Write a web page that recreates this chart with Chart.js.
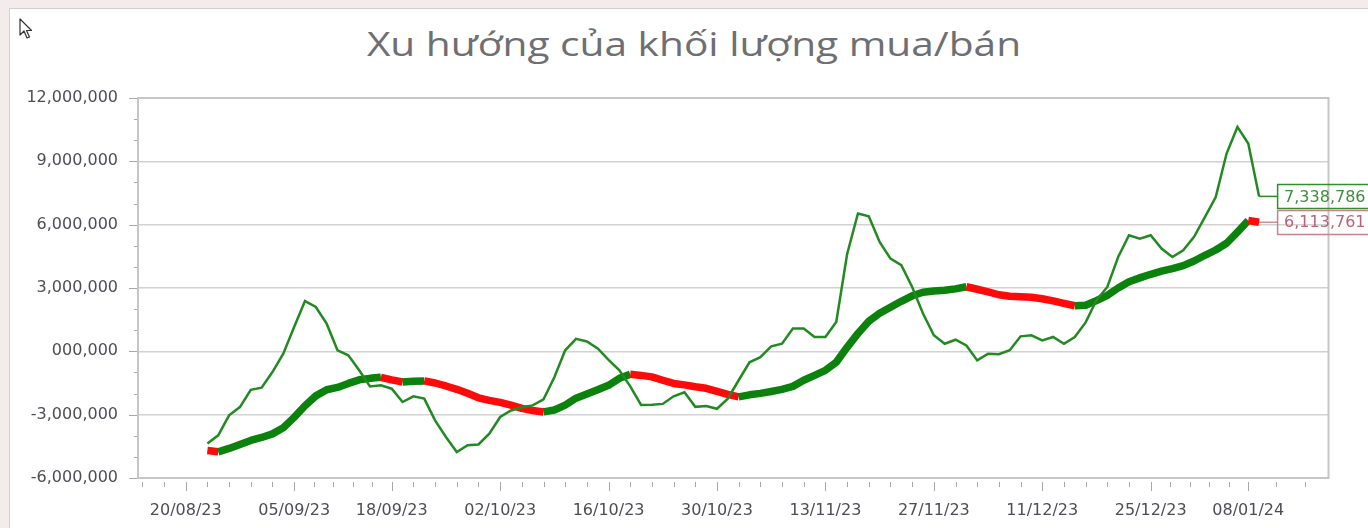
<!DOCTYPE html>
<html>
<head>
<meta charset="utf-8">
<script src="https://cdn.jsdelivr.net/npm/chart.js@4.4.1/dist/chart.umd.min.js"></script>
<style>
    html, body { margin: 0; padding: 0; }
    body { width: 1368px; height: 528px; background: #f3ecea; position: relative; overflow: hidden; }
    #panel { position: absolute; left: 9px; top: 8px; right: 0; bottom: 0; background: #fff;
             border-left: 1px solid #cfcfcf; border-top: 1px solid #cfcfcf; }
    #wrap { position: absolute; left: 0; top: 0; width: 1368px; height: 528px; }
    #title { position: absolute; left: 694px; top: 22px; line-height: 40px; white-space: nowrap;
             font: 32px "Open Sans", "Noto Sans", sans-serif; color: #6e6f72;
             transform: translateX(-50%) scaleX(1.27); }
    #cursor { position: absolute; left: 19px; top: 18px; }
</style>
</head>
<body>
<div id="panel"></div>
<svg id="cursor" width="14" height="22" viewBox="0 0 14 22">
    <path d="M1 1 L1 17 L5 13 L8 20 L10.5 19 L7.5 12.5 L12.5 12.5 Z" fill="#fff" stroke="#333" stroke-width="1.2" stroke-linejoin="round"/>
</svg>
<div id="title"></div>
<div id="wrap"><canvas id="trendChart"></canvas></div>
<script>
const titleText = 'Xu hướng của khối lượng mua/bán';

// one value per trading session, 22/08/23 -> 09/01/24, in millions
const volumeM = [
    -4.37, -3.98, -3.03, -2.64, -1.82, -1.72, -0.98, -0.11, 1.15, 2.38,
    2.10, 1.31, 0.05, -0.19, -0.90, -1.66, -1.61, -1.77, -2.40, -2.13,
    -2.24, -3.27, -4.06, -4.77, -4.45, -4.41, -3.90, -3.11, -2.80, -2.65,
    -2.56, -2.27, -1.23, 0.05, 0.59, 0.47, 0.14, -0.40, -0.90, -1.66,
    -2.54, -2.53, -2.49, -2.13, -1.94, -2.63, -2.59, -2.72, -2.24, -1.37,
    -0.52, -0.28, 0.24, 0.36, 1.08, 1.08, 0.68, 0.68, 1.39, 4.60,
    6.53, 6.40, 5.18, 4.39, 4.08, 3.05, 1.79, 0.76, 0.36, 0.55,
    0.28, -0.43, -0.11, -0.14, 0.05, 0.71, 0.76, 0.52, 0.68, 0.36,
    0.68, 1.37, 2.42, 3.05, 4.47, 5.50, 5.34, 5.50, 4.87, 4.47,
    4.79, 5.42, 6.36, 7.31, 9.37, 10.63, 9.84, 7.338786
];

const trendM = [
    -4.70, -4.76, -4.60, -4.41, -4.22, -4.08, -3.91, -3.62, -3.13, -2.58,
    -2.11, -1.82, -1.71, -1.52, -1.35, -1.28, -1.23, -1.35, -1.45, -1.42,
    -1.40, -1.50, -1.64, -1.80, -1.99, -2.20, -2.32, -2.42, -2.55, -2.70,
    -2.80, -2.87, -2.78, -2.55, -2.22, -2.02, -1.82, -1.61, -1.28, -1.09,
    -1.14, -1.21, -1.37, -1.52, -1.59, -1.68, -1.75, -1.90, -2.04, -2.16,
    -2.06, -1.99, -1.90, -1.80, -1.66, -1.37, -1.14, -0.90, -0.52, 0.19,
    0.85, 1.42, 1.80, 2.09, 2.37, 2.63, 2.80, 2.86, 2.89, 2.96,
    3.06, 2.94, 2.82, 2.68, 2.61, 2.58, 2.56, 2.49, 2.39, 2.27,
    2.16, 2.18, 2.40, 2.65, 3.00, 3.30, 3.48, 3.65, 3.80, 3.92,
    4.06, 4.28, 4.55, 4.80, 5.12, 5.65, 6.20, 6.113761
];

// x ticks, in session index
const xTickPos = [-2, 8, 17, 27, 37, 47, 57, 67, 77, 87, 96];
const xTickLabels = ['20/08/23', '05/09/23', '18/09/23', '02/10/23', '16/10/23', '30/10/23',
                     '13/11/23', '27/11/23', '11/12/23', '25/12/23', '08/01/24'];
const xMinorOutside = [-6, -4, 98.6, 101.2];

const yTickVals = [-6e6, -3e6, 0, 3e6, 6e6, 9e6, 12e6];
const yTickLabels = ['-6,000,000', '-3,000,000', '000,000', '3,000,000', '6,000,000', '9,000,000', '12,000,000'];

const GREEN = '#0b820b';
const RED = '#ff0a0a';
const LABEL_FONT = '"DejaVu Sans", Verdana, sans-serif';

document.getElementById('title').textContent = titleText;

function line(ctx, x1, y1, x2, y2) {
    ctx.beginPath();
    ctx.moveTo(x1, y1);
    ctx.lineTo(x2, y2);
    ctx.stroke();
}

// frame + major/minor tick marks
const frame = {
    id: 'frame',
    beforeDatasetsDraw(chart) {
        const { ctx, chartArea: a, scales: { x, y } } = chart;
        ctx.save();
        ctx.strokeStyle = '#c6c6c6';
        ctx.lineWidth = 2;
        ctx.strokeRect(a.left, a.top, a.right - a.left, a.bottom - a.top);

        ctx.strokeStyle = '#a8a8a8';
        ctx.lineWidth = 1;
        for (let v = -6e6; v <= 12e6; v += 1e6) {
            const py = Math.round(y.getPixelForValue(v)) + 0.5;
            const len = v % 3e6 === 0 ? 9 : 4;
            line(ctx, a.left - len, py, a.left - 1, py);
        }

        const minors = xMinorOutside.slice();
        for (let i = 0; i < xTickPos.length - 1; i++) {
            const step = (xTickPos[i + 1] - xTickPos[i]) / 5;
            for (let k = 1; k < 5; k++) minors.push(xTickPos[i] + k * step);
        }
        minors.forEach(v => {
            const px = Math.round(x.getPixelForValue(v)) + 0.5;
            line(ctx, px, a.bottom + 4, px, a.bottom + 9);
        });
        xTickPos.forEach(v => {
            const px = Math.round(x.getPixelForValue(v)) + 0.5;
            line(ctx, px, a.bottom + 4, px, a.bottom + 13);
        });
        ctx.restore();
    }
};

// last value tags at the right
const endTags = {
    id: 'endTags',
    afterDatasetsDraw(chart) {
        const ctx = chart.ctx;
        ctx.save();
        ctx.font = '16px ' + LABEL_FONT;
        ctx.textBaseline = 'middle';
        ctx.textAlign = 'left';
        chart.data.datasets.forEach((ds, i) => {
            const pts = chart.getDatasetMeta(i).data;
            const p = pts[pts.length - 1];
            const last = ds.data[ds.data.length - 1].y;
            const bx = p.x + 18, bh = 24;
            ctx.strokeStyle = ds.tagLine;
            ctx.lineWidth = 1.5;
            line(ctx, p.x, p.y, bx, p.y);
            ctx.strokeStyle = ds.tagBorder;
            ctx.strokeRect(bx + 0.5, Math.round(p.y - bh / 2) + 0.5, 100, bh);
            ctx.fillStyle = ds.tagText;
            ctx.fillText(Math.round(last).toLocaleString('en-US'), bx + 7, p.y + 1);
        });
        ctx.restore();
    }
};

function initChart() {
    const ctx = document.getElementById('trendChart').getContext('2d');
    new Chart(ctx, {
        type: 'line',
        data: {
            datasets: [{
                label: 'Khối lượng',
                data: volumeM.map((v, i) => ({ x: i, y: v * 1e6 })),
                borderColor: '#238a23',
                borderWidth: 2.5,
                pointRadius: 0,
                tension: 0,
                tagLine: '#238a23',
                tagBorder: '#2f8f2f',
                tagText: '#3f8d3f'
            },
            {
                label: 'Xu hướng',
                data: trendM.map((v, i) => ({ x: i, y: v * 1e6 })),
                borderColor: GREEN,
                borderWidth: 7.5,
                borderCapStyle: 'butt',
                borderJoinStyle: 'round',
                pointRadius: 0,
                tension: 0,
                segment: {
                    borderColor: c => c.p1.parsed.y < c.p0.parsed.y ? RED : GREEN
                },
                tagLine: '#c98f98',
                tagBorder: '#c7808c',
                tagText: '#c0607a'
            }]
        },
        options: {
            responsive: true,
            maintainAspectRatio: false,
            animation: false,
            layout: { padding: { left: 0, right: 39.5, top: 98, bottom: 0 } },
            plugins: {
                legend: { display: false },
                tooltip: { enabled: false },
                title: { display: false }
            },
            scales: {
                x: {
                    type: 'linear',
                    min: -6.4,
                    max: 103.4,
                    grid: { display: false, drawTicks: false },
                    border: { display: false },
                    afterFit: s => { s.height = 50; },
                    afterBuildTicks: s => { s.ticks = xTickPos.map(v => ({ value: v })); },
                    ticks: {
                        autoSkip: false,
                        maxRotation: 0,
                        padding: 23,
                        color: '#4d4d58',
                        font: { family: LABEL_FONT, size: 16 },
                        callback: (v, i) => xTickLabels[i]
                    }
                },
                y: {
                    min: -6e6,
                    max: 12e6,
                    grid: { color: '#d2d2d2', lineWidth: 1.5, drawTicks: false },
                    border: { display: false },
                    afterFit: s => { s.width = 138; },
                    afterBuildTicks: s => { s.ticks = yTickVals.map(v => ({ value: v })); },
                    ticks: {
                        padding: 20,
                        color: '#4d4d58',
                        font: { family: LABEL_FONT, size: 16 },
                        callback: (v, i) => yTickLabels[i]
                    }
                }
            }
        },
        plugins: [frame, endTags]
    });
}

window.onload = initChart;
</script>
</body>
</html>
